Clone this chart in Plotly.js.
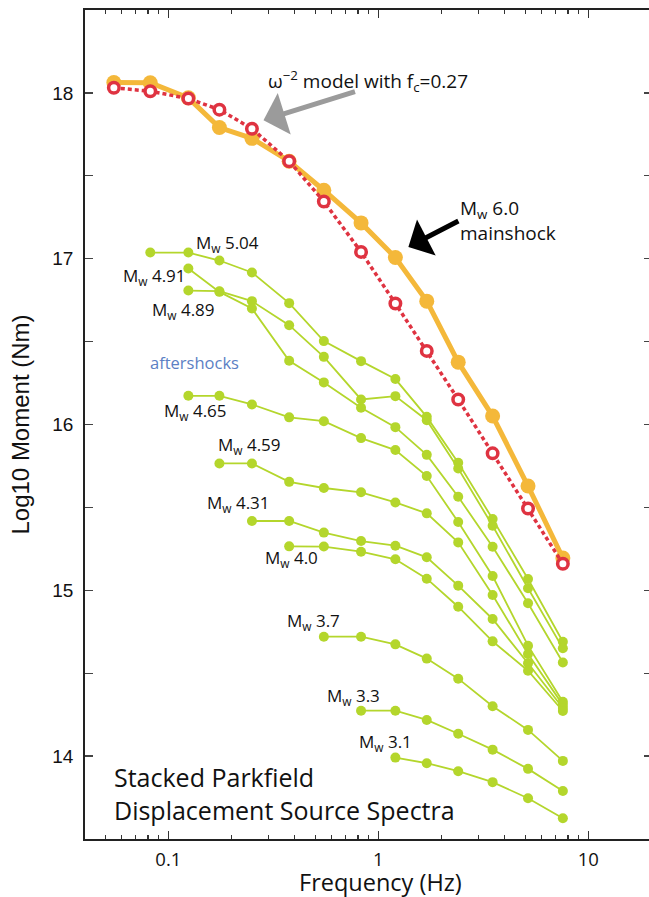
<!DOCTYPE html>
<html><head><meta charset="utf-8">
<script src="https://cdn.plot.ly/plotly-3.0.1.min.js"></script>
<style>html,body{margin:0;padding:0;overflow:hidden;background:#fff}</style>
</head><body><div id="chart"></div>
<script>
// Frequencies (Hz) of the spectral samples
const freq = [0.055, 0.082, 0.1245, 0.175, 0.25, 0.376, 0.55, 0.827, 1.205, 1.70, 2.40, 3.50, 5.16, 7.56];

// Mw 6.0 mainshock spectrum and omega^-2 model (fc = 0.27)
const mainshock = [18.062, 18.061, 17.970, 17.791, 17.726, 17.588, 17.413, 17.216, 17.007, 16.744, 16.376, 16.051, 15.629, 15.195];
const model     = [18.031, 18.010, 17.966, 17.899, 17.784, 17.588, 17.345, 17.041, 16.730, 16.444, 16.151, 15.826, 15.493, 15.160];

// Aftershock spectra (each ends at the highest frequency)
const mw504 = [17.037, 17.037, 16.989, 16.917, 16.732, 16.503, 16.382, 16.274, 16.046, 15.769, 15.430, 15.068, 14.690];
const mw491 = [16.941, 16.800, 16.700, 16.384, 16.254, 16.101, 15.984, 15.817, 15.564, 15.263, 14.922, 14.565];
const mw489 = [16.808, 16.804, 16.744, 16.599, 16.408, 16.151, 16.171, 16.026, 15.735, 15.389, 15.012, 14.650];
const mw465 = [16.173, 16.173, 16.121, 16.043, 16.020, 15.918, 15.846, 15.689, 15.412, 15.086, 14.666, 14.328];
const mw459 = [15.765, 15.765, 15.654, 15.617, 15.591, 15.530, 15.464, 15.289, 14.972, 14.616, 14.309];
const mw431 = [15.418, 15.418, 15.348, 15.297, 15.269, 15.199, 15.028, 14.827, 14.560, 14.290];
const mw400 = [15.265, 15.264, 15.233, 15.187, 15.070, 14.901, 14.692, 14.515, 14.272];
const mw370 = [14.720, 14.720, 14.674, 14.588, 14.467, 14.301, 14.158, 13.971];
const mw330 = [14.274, 14.274, 14.218, 14.135, 14.039, 13.923, 13.790];
const mw310 = [13.991, 13.957, 13.909, 13.843, 13.746, 13.625];

const aftershockSeries = [mw504, mw491, mw489, mw465, mw459, mw431, mw400, mw370, mw330, mw310];
const aftershockNames = ['Mw 5.04','Mw 4.91','Mw 4.89','Mw 4.65','Mw 4.59','Mw 4.31','Mw 4.0','Mw 3.7','Mw 3.3','Mw 3.1'];

// Tick labels
const yTickVals = [14, 14.5, 15, 15.5, 16, 16.5, 17, 17.5, 18];
const yTickText = ['14', '', '15', '', '16', '', '17', '', '18'];
const xTickVals = [0.1, 1, 10];
const xTickText = ['0.1', '1', '10'];
const xMinorVals = [0.05,0.06,0.07,0.08,0.09,0.2,0.3,0.4,0.5,0.6,0.7,0.8,0.9,2,3,4,5,6,7,8,9];

const GREEN = '#B4D62C', ORANGE = '#F4B83A', RED = '#DF3341';
const TXT = 'Open Sans, Noto Sans, sans-serif';

const traces = [];
aftershockSeries.forEach((vals, i) => {
  traces.push({
    x: freq.slice(freq.length - vals.length), y: vals, name: aftershockNames[i],
    type: 'scatter', mode: 'lines+markers',
    line: {color: GREEN, width: 1.8},
    marker: {color: GREEN, size: 10},
    cliponaxis: false
  });
});
traces.push({
  x: freq, y: mainshock, name: 'Mw 6.0 mainshock', type: 'scatter', mode: 'lines+markers',
  line: {color: ORANGE, width: 5}, marker: {color: ORANGE, size: 15}
});
traces.push({
  x: freq, y: model, name: 'omega-2 model', type: 'scatter', mode: 'lines+markers',
  line: {color: RED, width: 3.5, dash: '4px,3px'},
  marker: {color: '#ffffff', size: 10.5, line: {color: RED, width: 3.5}}
});

function lab(text, lx, y, size, color, extra) {
  return Object.assign({text: text, x: lx, y: y, xref: 'x', yref: 'y', showarrow: false,
    xanchor: 'left', yanchor: 'middle', font: {family: TXT, size: size, color: color || '#111'}}, extra || {});
}

const annotations = [
  lab('M<sub>w</sub> 5.04', -0.8795, 17.093, 17),
  lab('M<sub>w</sub> 4.91', -1.2238, 16.890, 17),
  lab('M<sub>w</sub> 4.89', -1.089, 16.689, 17),
  lab('aftershocks', -1.0952, 16.374, 16.5, '#5B80C4'),
  lab('M<sub>w</sub> 4.65', -1.0319, 16.076, 17),
  lab('M<sub>w</sub> 4.59', -0.7748, 15.876, 17),
  lab('M<sub>w</sub> 4.31', -0.8257, 15.524, 17),
  lab('M<sub>w</sub> 4.0', -0.5495, 15.193, 17),
  lab('M<sub>w</sub> 3.7', -0.4448, 14.809, 17),
  lab('M<sub>w</sub> 3.3', -0.2543, 14.359, 17),
  lab('M<sub>w</sub> 3.1', -0.10, 14.081, 17),
  lab('Stacked Parkfield<br>Displacement Source Spectra', -1.2671, 13.776, 25, '#111', {align: 'left'}),
  lab('ω<sup>−2</sup> model with f<sub>c</sub>=0.27', -0.5367, 18.070, 19),
  // mainshock label carries its own black arrow (tip at the mainshock curve)
  lab('M<sub>w</sub> 6.0<br>mainshock', 0.1429, 17.071, 19, '#111', {align: 'left',
    showarrow: true, ax: 50, ay: -26, arrowhead: 1, arrowwidth: 5, arrowsize: 1.35,
    arrowcolor: '#000000', standoff: 0, startstandoff: 0}),
  {text: '', x: -0.5471, y: 17.835, xref: 'x', yref: 'y', showarrow: true, ax: 93, ay: -29,
   arrowhead: 1, arrowwidth: 5, arrowsize: 1.45, arrowcolor: '#9B9B9B', standoff: 0},
  // x-axis title, centred under the 1 Hz tick as in the original figure
  {text: 'Frequency (Hz)', xref: 'paper', yref: 'paper', x: 0.522, y: -0.0515,
   xanchor: 'center', yanchor: 'middle', showarrow: false,
   font: {family: TXT, size: 23.5, color: '#111'}}
];

const layout = {
  width: 655, height: 897,
  margin: {l: 85, r: 3, t: 10, b: 58},
  paper_bgcolor: '#fff', plot_bgcolor: '#fff',
  showlegend: false,
  xaxis: {
    type: 'log', range: [-1.397, 1.303],
    tickmode: 'array', tickvals: xTickVals, ticktext: xTickText,
    ticks: 'inside', ticklen: 8, tickwidth: 1.3, tickcolor: '#333',
    minor: {tickmode: 'array', tickvals: xMinorVals, ticks: 'inside', ticklen: 4, tickwidth: 1.1, tickcolor: '#333', showgrid: false},
    showline: true, linecolor: '#222', linewidth: 1.8, mirror: 'ticks',
    showgrid: false, zeroline: false,
    tickfont: {family: TXT, size: 18.5, color: '#111'},
    ticklabelstandoff: 3
  },
  yaxis: {
    range: [13.5, 18.5],
    tickmode: 'array', tickvals: yTickVals, ticktext: yTickText,
    ticks: 'inside', ticklen: 8, tickwidth: 1.3, tickcolor: '#444',
    showline: true, linecolor: '#222', linewidth: 1.8, mirror: 'ticks',
    showgrid: false, zeroline: false,
    tickfont: {family: 'Liberation Sans, Arial, sans-serif', size: 19, color: '#111'},
    ticklabelstandoff: 6,
    title: {text: 'Log10 Moment (Nm)', font: {family: 'Liberation Sans, Arial, sans-serif', size: 24, color: '#111'}, standoff: 16}
  },
  annotations: annotations
};

Plotly.newPlot('chart', traces, layout, {displayModeBar: false, staticPlot: true});
</script>
</body></html>
